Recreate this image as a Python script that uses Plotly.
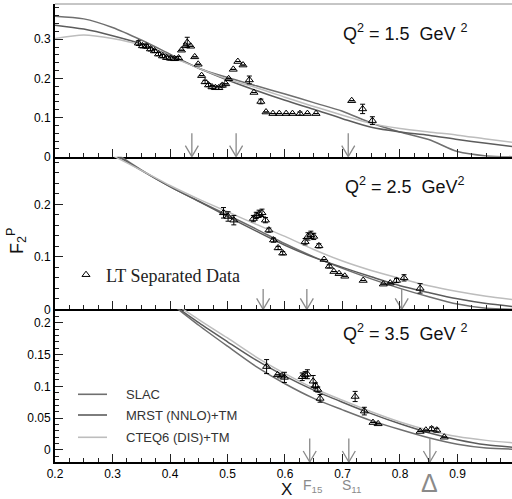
import plotly.graph_objects as go
from plotly.subplots import make_subplots

# ---------------- data ----------------
curve_x = [0.2, 0.25, 0.3, 0.35, 0.4, 0.45, 0.5, 0.55, 0.6, 0.65, 0.7, 0.75, 0.8, 0.85, 0.9, 0.95, 1.0]

slac_q15 = [0.359, 0.352, 0.330, 0.298, 0.262, 0.226, 0.202, 0.181, 0.160, 0.138, 0.116, 0.086, 0.063, 0.044, 0.013, 0.002, 0.0]
mrst_q15 = [0.336, 0.326, 0.309, 0.288, 0.258, 0.226, 0.196, 0.169, 0.144, 0.121, 0.097, 0.075, 0.063, 0.055, 0.044, 0.034, 0.025]
cteq_q15 = [0.302, 0.311, 0.302, 0.285, 0.256, 0.226, 0.198, 0.176, 0.152, 0.128, 0.106, 0.085, 0.072, 0.063, 0.055, 0.045, 0.036]

slac_q25 = [0.375, 0.342, 0.302, 0.266, 0.234, 0.206, 0.180, 0.153, 0.125, 0.100, 0.078, 0.058, 0.040, 0.024, 0.010, 0.002, 0.0]
mrst_q25 = [0.362, 0.334, 0.298, 0.265, 0.234, 0.206, 0.177, 0.149, 0.122, 0.099, 0.080, 0.062, 0.045, 0.032, 0.020, 0.011, 0.005]
cteq_q25 = [0.335, 0.320, 0.293, 0.265, 0.236, 0.210, 0.186, 0.162, 0.139, 0.114, 0.092, 0.074, 0.059, 0.045, 0.034, 0.025, 0.018]

slac_q35 = [0.400, 0.370, 0.330, 0.280, 0.232, 0.196, 0.163, 0.131, 0.104, 0.081, 0.063, 0.046, 0.032, 0.019, 0.009, 0.003, 0.001]
mrst_q35 = [0.410, 0.370, 0.330, 0.280, 0.233, 0.200, 0.170, 0.141, 0.116, 0.094, 0.075, 0.057, 0.041, 0.027, 0.016, 0.008, 0.004]
cteq_q35 = [0.400, 0.370, 0.330, 0.280, 0.236, 0.205, 0.176, 0.146, 0.120, 0.097, 0.078, 0.060, 0.044, 0.031, 0.021, 0.015, 0.011]

x_q15 = [0.345, 0.352, 0.359, 0.366, 0.373, 0.380, 0.387, 0.394, 0.401, 0.408, 0.415,
         0.420, 0.427, 0.430, 0.436, 0.443, 0.449, 0.455, 0.461, 0.467, 0.473, 0.479, 0.485,
         0.491, 0.497, 0.502, 0.510, 0.518, 0.527, 0.538, 0.546, 0.558,
         0.567, 0.579, 0.590, 0.602, 0.613, 0.626, 0.639, 0.654, 0.716, 0.735, 0.752]
f2_q15 = [0.290, 0.283, 0.282, 0.275, 0.270, 0.262, 0.257, 0.253, 0.251, 0.250, 0.252,
          0.272, 0.283, 0.292, 0.282, 0.255, 0.236, 0.207, 0.191, 0.183, 0.178, 0.176, 0.176,
          0.182, 0.186, 0.199, 0.223, 0.243, 0.234, 0.196, 0.164, 0.141,
          0.114, 0.110, 0.110, 0.110, 0.110, 0.110, 0.110, 0.110, 0.143, 0.122, 0.092]
err_q15 = [0.006, 0.005, 0.005, 0.005, 0.004, 0.004, 0.004, 0.004, 0.004, 0.004, 0.004,
           None, None, 0.013, None, None, None, None, 0.004, 0.004, 0.004, 0.004, 0.004,
           0.004, None, None, None, None, None, 0.010, None, 0.006,
           None, None, None, None, None, 0.004, None, None, None, 0.012, 0.010]

x_q25 = [0.493, 0.501, 0.511, 0.545, 0.550, 0.555, 0.560, 0.566, 0.572, 0.580, 0.588, 0.596,
         0.635, 0.640, 0.645, 0.650, 0.659, 0.668, 0.677, 0.685, 0.694, 0.704, 0.736,
         0.771, 0.783, 0.794, 0.807, 0.835]
f2_q25 = [0.184, 0.177, 0.170, 0.173, 0.179, 0.182, 0.184, 0.170, 0.151, 0.132, 0.117, 0.107,
          0.129, 0.139, 0.142, 0.139, 0.121, 0.095, 0.082, 0.072, 0.068, 0.063, 0.055,
          0.048, 0.050, 0.055, 0.060, 0.040]
err_q25 = [0.010, 0.009, 0.009, 0.006, 0.006, 0.007, 0.007, 0.005, 0.004, 0.004, 0.003, 0.003,
           0.006, 0.007, 0.007, 0.006, 0.004, None, 0.003, None, None, None, None,
           None, None, 0.004, 0.006, 0.009]

x_q35 = [0.568, 0.587, 0.594, 0.599, 0.630, 0.635, 0.639, 0.649, 0.653, 0.657, 0.661,
         0.722, 0.738, 0.753, 0.762, 0.835, 0.845, 0.855, 0.864, 0.877]
f2_q35 = [0.131, 0.118, 0.116, 0.114, 0.115, 0.118, 0.119, 0.108, 0.101, 0.095, 0.081,
          0.084, 0.061, 0.043, 0.041, 0.029, 0.031, 0.033, 0.031, 0.020]
err_q35 = [0.011, None, None, 0.008, 0.006, 0.005, 0.007, 0.009, 0.004, 0.004, 0.006,
           0.008, 0.006, None, None, None, None, 0.003, 0.003, None]

arrows_q15 = [0.438, 0.515, 0.710]
arrows_q25 = [0.562, 0.638, 0.803]
arrows_q35 = [0.643, 0.711, 0.852]
arrow_top = [0.060, 0.039, 0.018]
resonance_labels = ["F<sub>15</sub>", "S<sub>11</sub>", "Δ"]

panel_labels = ["Q<sup>2</sup> = 1.5\u00a0\u00a0GeV <sup>2</sup>",
                "Q<sup>2</sup> = 2.5\u00a0\u00a0GeV<sup>2</sup>",
                "Q<sup>2</sup> = 3.5\u00a0\u00a0GeV <sup>2</sup>"]
model_names = ["SLAC", "MRST (NNLO)+TM", "CTEQ6 (DIS)+TM"]
model_colors = ["#6f6f6f", "#5c5c5c", "#bdbdbd"]

y_ranges = [[0, 0.39], [0, 0.291], [-0.019, 0.221]]
y_dticks = [0.1, 0.1, 0.05]
y_minor = [0.02, 0.02, 0.01]
x_range = [0.2, 0.9948]

# ---------------- figure ----------------
W, H = 512, 499
ML, MR, MT, MB = 55, 0, 4, 37
plot_w = W - ML - MR
plot_h = H - MT - MB
panel_h = plot_h / 3.0

fig = make_subplots(rows=3, cols=1, shared_xaxes=True, vertical_spacing=0)

curves = [(slac_q15, mrst_q15, cteq_q15), (slac_q25, mrst_q25, cteq_q25), (slac_q35, mrst_q35, cteq_q35)]
datasets = [(x_q15, f2_q15, err_q15), (x_q25, f2_q25, err_q25), (x_q35, f2_q35, err_q35)]
arrows = [arrows_q15, arrows_q25, arrows_q35]

for i in range(3):
    row = i + 1
    for vals, name, col in zip(curves[i], model_names, model_colors):
        fig.add_trace(go.Scatter(x=curve_x, y=vals, mode="lines", name=name,
                                 line=dict(color=col, width=1.5, shape="spline", smoothing=0.8),
                                 showlegend=False, hoverinfo="skip"), row=row, col=1)
    # resonance arrows (built from arrow positions and the axis scales)
    ylo, yhi = y_ranges[i]
    dx = 6.5 * (x_range[1] - x_range[0]) / plot_w
    dy = 11 * (yhi - ylo) / panel_h
    ax_, ay_ = [], []
    for xa in arrows[i]:
        ax_ += [xa, xa, None, xa - dx, xa, xa + dx, None]
        ay_ += [arrow_top[i], ylo, None, ylo + dy, ylo, ylo + dy, None]
    fig.add_trace(go.Scatter(x=ax_, y=ay_, mode="lines", line=dict(color="#8a8a8a", width=1.3),
                             showlegend=False, hoverinfo="skip"), row=row, col=1)
    xs, ys, es = datasets[i]
    fig.add_trace(go.Scatter(x=xs, y=ys, mode="markers", name="LT Separated Data",
                             marker=dict(symbol="triangle-up-open", size=7, color="black",
                                         line=dict(width=1, color="black")),
                             error_y=dict(type="data", array=es, color="black", thickness=1, width=2.5),
                             showlegend=(i == 1), legend="legend"), row=row, col=1)

for i in range(3):
    row = i + 1
    fig.update_xaxes(range=x_range, showline=True, linecolor="black", linewidth=2,
                     ticks="inside", ticklen=8, tickwidth=1, tickcolor="#222",
                     tick0=0.2, dtick=0.1, showgrid=False, zeroline=False,
                     minor=dict(dtick=0.025, ticklen=4, tickwidth=1, tickcolor="#222", ticks="inside", showgrid=False),
                     tickfont=dict(size=12, color="black"),
                     showticklabels=(row == 3), row=row, col=1)
    fig.update_yaxes(range=y_ranges[i], showline=True, linecolor="black", linewidth=2,
                     ticks="inside", ticklen=8, tickwidth=1, tickcolor="#222",
                     tick0=0, dtick=y_dticks[i], showgrid=False, zeroline=False,
                     minor=dict(dtick=y_minor[i], ticklen=4, tickwidth=1, tickcolor="#222", ticks="inside", showgrid=False),
                     tickfont=dict(size=12, color="black"), row=row, col=1)

def px_to_paper(px, py):
    return (px - ML) / plot_w, (H - MB - py) / plot_h

annotations = []
for lab, py in zip(panel_labels, [33, 185, 332]):
    x, y = px_to_paper(405, py)
    annotations.append(dict(text=lab, x=x, y=y, xref="paper", yref="paper", showarrow=False,
                            xanchor="center", yanchor="middle",
                            font=dict(size=18, color="#111", family="Liberation Sans, Arial")))
x, y = px_to_paper(16, 241)
annotations.append(dict(text="F<sub>2</sub><sup>P</sup>", x=x, y=y, xref="paper", yref="paper",
                        showarrow=False, textangle=-90, xanchor="center", yanchor="middle",
                        font=dict(size=18, color="#111", family="Liberation Sans, Arial")))
x, y = px_to_paper(286, 490)
annotations.append(dict(text="X", x=x, y=y, xref="paper", yref="paper", showarrow=False,
                        xanchor="center", yanchor="middle",
                        font=dict(size=17, color="#111", family="Liberation Sans, Arial")))
for lab, xa in zip(resonance_labels, arrows_q35):
    big = lab == "Δ"
    _, y = px_to_paper(0, 483 if big else 486)
    annotations.append(dict(text=lab, x=xa + (0 if big else 0.006), y=y, xref="x3", yref="paper",
                            showarrow=False, xanchor="center", yanchor="middle",
                            font=dict(size=25 if big else 14, color="#8a8a8a",
                                      family="Liberation Sans, Arial")))
shapes = []
for name, col, py in zip(model_names, model_colors, [394.3, 415, 437.3]):
    x0, y0 = px_to_paper(78, py)
    x1, _ = px_to_paper(107, py)
    shapes.append(dict(type="line", xref="paper", yref="paper", x0=x0, x1=x1, y0=y0, y1=y0,
                       line=dict(color=col, width=1.6)))
    xt, _ = px_to_paper(124, py)
    annotations.append(dict(text=name, x=xt, y=y0, xref="paper", yref="paper", showarrow=False,
                            xanchor="left", yanchor="middle",
                            font=dict(size=13, color="#333", family="Liberation Sans, Arial")))
shapes.append(dict(type="line", xref="x domain", yref="y domain", x0=0, x1=1, y0=1, y1=1,
                   line=dict(color="#8c8c8c", width=1)))

lx, ly = px_to_paper(66, 275)
fig.update_layout(
    width=W, height=H, margin=dict(l=ML, r=MR, t=MT, b=MB),
    plot_bgcolor="white", paper_bgcolor="white",
    font=dict(family="Liberation Sans, Arial", size=12, color="black"),
    annotations=annotations, shapes=shapes,
    legend=dict(x=lx, y=ly, xref="paper", yref="paper", xanchor="left", yanchor="middle",
                bgcolor="rgba(0,0,0,0)", borderwidth=0,
                font=dict(size=18, family="Liberation Serif, Times New Roman", color="#222")),
)

fig.write_html("out.html", config={"displayModeBar": False})
with open("out.html", "r", encoding="utf-8") as f:
    html = f.read()
html = html.replace("<head>", "<head><style>html,body{margin:0;padding:0;}</style>", 1)
with open("out.html", "w", encoding="utf-8") as f:
    f.write(html)
